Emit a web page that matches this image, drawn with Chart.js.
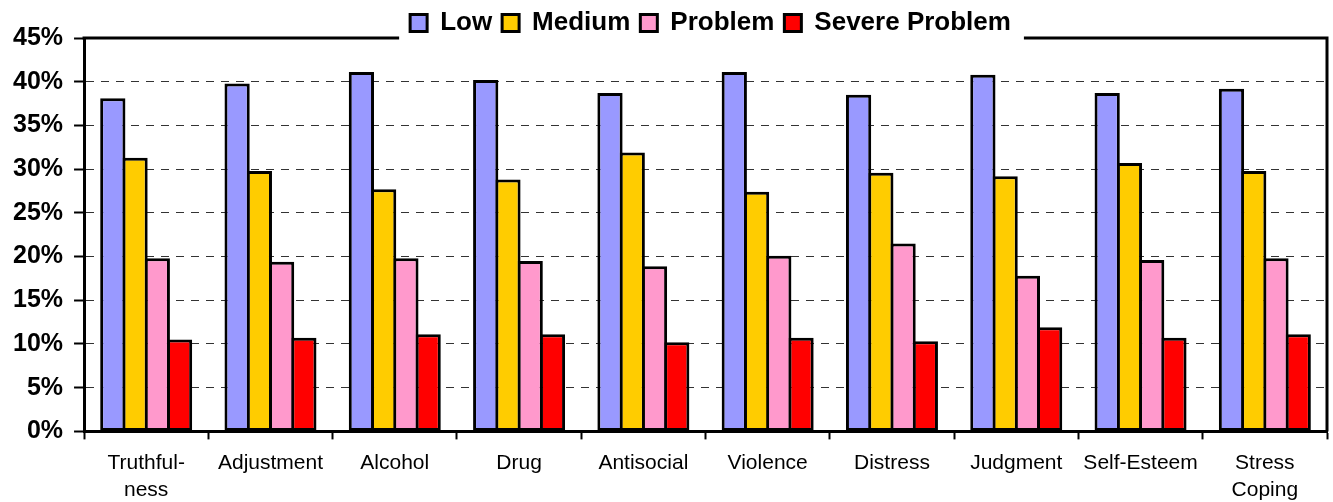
<!DOCTYPE html>
<html>
<head>
<meta charset="utf-8">
<script src="https://cdn.jsdelivr.net/npm/chart.js@4.4.1/dist/chart.umd.min.js"></script>
<style>
html,body{margin:0;padding:0;background:#fff;}
#wrap{width:1333px;height:502px;position:relative;}
</style>
</head>
<body>
<div id="wrap"><canvas id="c"></canvas></div>
<script>
const categories = [['Truthful-','ness'],'Adjustment','Alcohol','Drug','Antisocial','Violence','Distress','Judgment','Self-Esteem',['Stress','Coping']];
const seriesNames = ['Low','Medium','Problem','Severe Problem'];
const lowValues     = [38.1, 39.8, 41.1, 40.2, 38.7, 41.1, 38.5, 40.8, 38.7, 39.2];
const mediumValues  = [31.3, 29.8, 27.7, 28.8, 31.9, 27.4, 29.6, 29.2, 30.7, 29.8];
const problemValues = [19.8, 19.4, 19.8, 19.5, 18.9, 20.1, 21.5, 17.8, 19.6, 19.8];
const severeValues  = [10.5, 10.7, 11.1, 11.1, 10.2, 10.7, 10.3, 11.9, 10.7, 11.1];
const yMin = 0, yMax = 45, yStep = 5;

const FONT = '"Liberation Sans", Arial, sans-serif';
const colors = ['#9999FF', '#FFCC00', '#FF99CC', '#FF0000'];
const seriesValues = [lowValues, mediumValues, problemValues, severeValues];
const BW = 3;

const frame = {
  id: 'frame',
  afterLayout(chart) {
    const lg = chart.legend;
    if (!lg || !lg.lineWidths) return;
    const a = chart.chartArea;
    const pad = lg.options.labels.padding;
    const lw = lg.lineWidths[0];
    const start = (lg.left + pad + lg.right - lw) / 2;
    const want = (a.left + a.right) / 2 - (lw - pad) / 2 + 5;
    const d = want - start;
    lg.left += d; lg.right += d;
  },
  afterDraw(chart) {
    const ctx = chart.ctx, a = chart.chartArea, lg = chart.legend;
    const hb = lg.legendHitBoxes;
    const first = hb[0], last = hb[hb.length - 1];
    ctx.save();
    ctx.strokeStyle = '#000';
    ctx.lineWidth = 3;
    ctx.lineJoin = 'miter';
    ctx.beginPath();
    ctx.moveTo(a.left - 1.5, a.top);
    ctx.lineTo(first.left - 11, a.top);
    ctx.stroke();
    ctx.beginPath();
    ctx.moveTo(last.left + last.width + 13, a.top);
    ctx.lineTo(a.right, a.top);
    ctx.lineTo(a.right, a.bottom);
    ctx.stroke();
    ctx.restore();
  }
};

new Chart(document.getElementById('c'), {
  type: 'bar',
  data: {
    labels: categories,
    datasets: seriesNames.map((n, i) => ({
      label: n,
      data: seriesValues[i],
      backgroundColor: colors[i],
      borderColor: '#000',
      borderWidth: BW,
      borderSkipped: false,
      categoryPercentage: 0.716,
      barPercentage: 1.135
    }))
  },
  options: {
    responsive: true,
    maintainAspectRatio: false,
    animation: false,
    devicePixelRatio: 1,
    layout: { padding: { left: 2, right: 6, top: 0, bottom: -12 } },
    plugins: {
      tooltip: { enabled: false },
      legend: {
        position: 'top',
        maxHeight: 38,
        labels: {
          font: { family: FONT, size: 26, weight: 'bold' },
          color: '#000',
          boxWidth: 17,
          boxHeight: 17,
          padding: 10
        }
      }
    },
    scales: {
      x: {
        ticks: {
          font: { family: FONT, size: 21, lineHeight: 1.3 },
          color: '#000',
          padding: 10,
          maxRotation: 0,
          autoSkip: false
        },
        grid: {
          display: true,
          drawOnChartArea: false,
          drawTicks: true,
          tickLength: 8,
          tickWidth: 2,
          tickColor: '#000',
          offset: true
        },
        border: { display: true, color: '#000', width: 3, z: 1 }
      },
      y: {
        min: yMin,
        max: yMax,
        ticks: {
          stepSize: yStep,
          callback: v => v + '%',
          font: { family: FONT, size: 25, weight: 'bold' },
          color: '#000',
          padding: 11
        },
        grid: {
          color: c => (c.tick && c.tick.value === yMax) ? 'rgba(0,0,0,0)' : '#333',
          lineWidth: 1,
          tickLength: 10,
          tickWidth: 2,
          tickColor: '#000',
          tickBorderDash: []
        },
        border: { display: true, color: '#000', width: 3, dash: [8, 7], z: 1 }
      }
    }
  },
  plugins: [frame]
});
</script>
</body>
</html>
